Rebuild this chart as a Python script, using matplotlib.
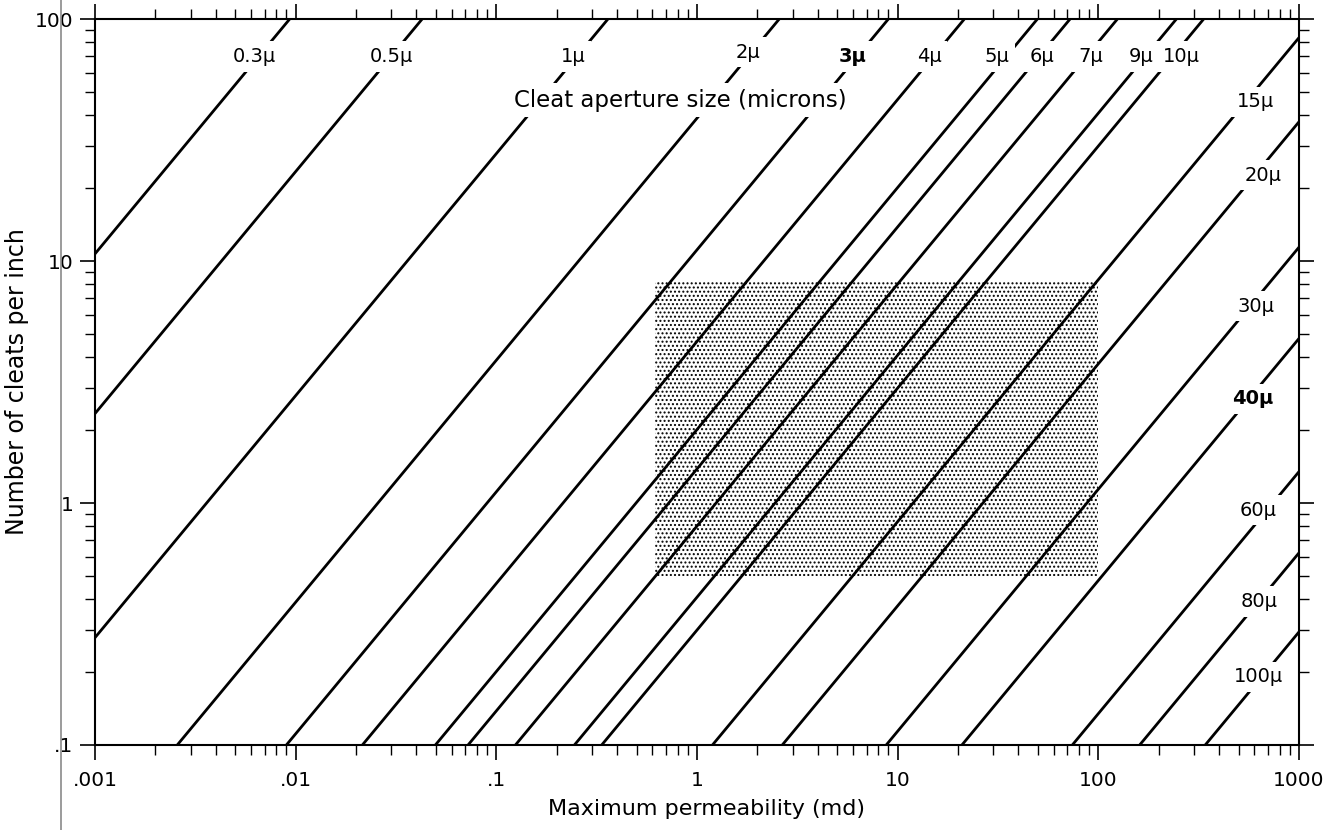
import matplotlib
matplotlib.use("Agg")
import matplotlib.pyplot as plt
import numpy as np
from matplotlib.lines import Line2D
from matplotlib.ticker import FixedLocator, FixedFormatter, NullFormatter, LogLocator

plt.rcParams['font.family'] = ['DejaVu Sans']
plt.rcParams['hatch.linewidth'] = 0.95

# cleat aperture lines: permeability (md) at 1 cleat per inch
apertures = ['0.3', '0.5', '1', '2', '3', '4', '5', '6', '7', '9', '10',
             '15', '20', '30', '40', '60', '80', '100']
k_at_one_cleat = [9.34e-5, 4.27e-4, 3.6e-3, 0.0257, 0.0899, 0.215, 0.497, 0.723,
                  1.245, 2.45, 3.35, 11.94, 26.6, 87.7, 209, 742, 1607, 3410]
# where each label sits along its line (cleats per inch) and its sideways nudge (px)
label_cleats = [70, 70, 70, 73, 70, 70, 70, 70, 70, 70, 70,
                45.4, 22.6, 6.5, 2.69, 0.935, 0.392, 0.191]
label_dx = [-4, 0, -4, -4, -5, -4, -9, 3, 4, -4, 9,
            10, 8, 6, 4, -9, 0, -3]
bold_labels = ['3', '40']

# shaded field
field_perm = [0.62, 100]
field_cleats = [0.5, 8.2]

x_ticks = [0.001, 0.01, 0.1, 1, 10, 100, 1000]
x_tick_labels = ['.001', '.01', '.1', '1', '10', '100', '1000']
y_ticks = [0.1, 1, 10, 100]
y_tick_labels = ['.1', '1', '10', '100']

fig = plt.figure(figsize=(13.37, 8.30), dpi=100)
ax = fig.add_axes([95/1337, 1-745/830, (1299-95)/1337, (745-19)/830])
ax.set_xscale('log')
ax.set_yscale('log')
ax.set_xlim(0.001, 1000)
ax.set_ylim(0.1, 100)

# stippled field
ax.fill([field_perm[0], field_perm[1], field_perm[1], field_perm[0]],
        [field_cleats[0], field_cleats[0], field_cleats[1], field_cleats[1]],
        facecolor='white', edgecolor='black', linewidth=0, hatch='....', zorder=1)

n = np.array([0.1, 100.0])
for name, k1, nl, dx in zip(apertures, k_at_one_cleat, label_cleats, label_dx):
    ax.plot(k1 * n, n, color='black', lw=2.0, zorder=2)
    ax.annotate(name + 'μ', xy=(k1 * nl, nl), xytext=(dx, 0), textcoords='offset pixels',
                ha='center', va='center', fontsize=14,
                fontweight='bold' if name in bold_labels else 'normal',
                bbox=dict(facecolor='white', edgecolor='none', pad=4), zorder=4)

ax.text(0.486, 0.888, 'Cleat aperture size (microns)', transform=ax.transAxes,
        ha='center', va='center', fontsize=16.5,
        bbox=dict(facecolor='white', edgecolor='none', pad=4), zorder=4)

ax.xaxis.set_major_locator(FixedLocator(x_ticks))
ax.xaxis.set_major_formatter(FixedFormatter(x_tick_labels))
ax.yaxis.set_major_locator(FixedLocator(y_ticks))
ax.yaxis.set_major_formatter(FixedFormatter(y_tick_labels))
ax.xaxis.set_minor_locator(LogLocator(base=10, subs=np.arange(2, 10)))
ax.yaxis.set_minor_locator(LogLocator(base=10, subs=np.arange(2, 10)))
ax.xaxis.set_minor_formatter(NullFormatter())
ax.yaxis.set_minor_formatter(NullFormatter())

ax.tick_params(which='both', direction='out', top=True, right=True,
               labeltop=False, labelright=False, labelsize=14.5)
ax.tick_params(which='major', length=10.5, width=1.2, pad=8)
ax.tick_params(which='minor', length=7, width=1.0)
ax.tick_params(axis='y', which='major', pad=5)
for s in ax.spines.values():
    s.set_linewidth(1.5)

ax.set_xlabel('Maximum permeability (md)', fontsize=16, labelpad=7, x=0.508)
ax.set_ylabel('Number of cleats per inch', fontsize=17, labelpad=4)

# faint vertical rule at the left of the scanned page
fig.add_artist(Line2D([61/1337, 61/1337], [0, 1], transform=fig.transFigure,
                      color='#8a8a8a', lw=1.2))

fig.savefig('out.png', dpi=100, facecolor='white')
